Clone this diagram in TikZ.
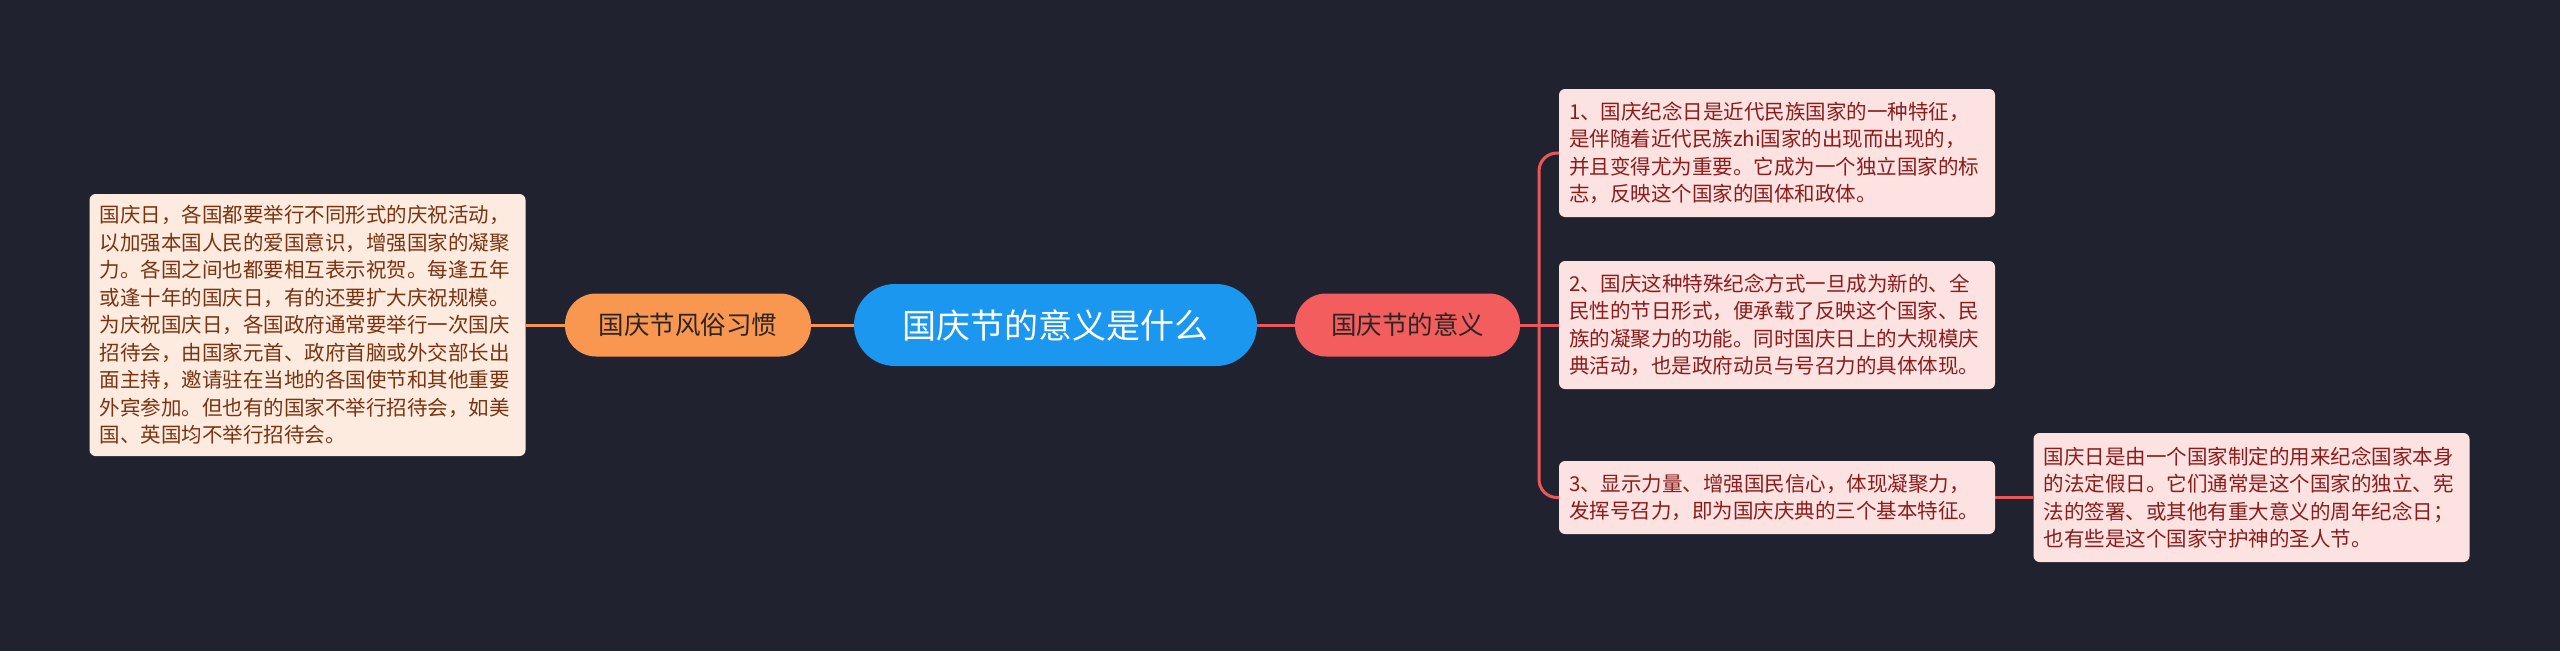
\documentclass[tikz,border=0pt]{standalone}
\usepackage{fontspec}
\usetikzlibrary{backgrounds}
\newfontfamily\cjk{Noto Sans CJK SC}
\definecolor{bg}{HTML}{20232F}
\definecolor{cblue}{HTML}{1B97F0}
\definecolor{corange}{HTML}{F9964F}
\definecolor{cred}{HTML}{F45D5D}
\definecolor{lorange}{HTML}{F7954A}
\definecolor{lred}{HTML}{E9575A}
\definecolor{fillL}{HTML}{FDEBE0}
\definecolor{fillR}{HTML}{FDE2E2}
\definecolor{txtL}{HTML}{7A3310}
\definecolor{txtR}{HTML}{8B1C1C}
\definecolor{dtxt}{HTML}{2A2626}
\tikzset{
  pill/.style={inner sep=0pt, align=center, text=dtxt},
  mainpill/.style={pill, fill=cblue, rounded corners=41pt, minimum width=403pt, minimum height=82pt, text=white, font=\cjk\fontsize{34}{40}\selectfont},
  subpill/.style={pill, rounded corners=31pt, minimum height=63pt, font=\cjk\fontsize{25.5}{30}\selectfont},
  leafbox/.style={inner xsep=10pt, inner ysep=0pt, rounded corners=6pt, align=left, text width=416pt, font=\cjk\fontsize{20.5}{27.5}\selectfont},
  leafL/.style={leafbox, fill=fillL, text=txtL},
  leafR/.style={leafbox, fill=fillR, text=txtR},
  olink/.style={draw=lorange, line width=3pt},
  rlink/.style={draw=lred, line width=3pt},
}
\begin{document}
\begin{tikzpicture}[x=1pt,y=-1pt]
\useasboundingbox (0,0) rectangle (2560,651);

\node[mainpill] (root) at (1055.5,325) {国庆节的意义是什么};
\node[subpill, fill=corange, minimum width=246pt] (custom) at (688,325) {国庆节风俗习惯};
\node[subpill, fill=cred, minimum width=225pt] (meaning) at (1407.5,325) {国庆节的意义};

\node[leafL, minimum height=262pt] (lbox) at (307.5,325) {国庆日，各国都要举行不同形式的庆祝活动，\\以加强本国人民的爱国意识，增强国家的凝聚\\力。各国之间也都要相互表示祝贺。每逢五年\\或逢十年的国庆日，有的还要扩大庆祝规模。\\为庆祝国庆日，各国政府通常要举行一次国庆\\招待会，由国家元首、政府首脑或外交部长出\\面主持，邀请驻在当地的各国使节和其他重要\\外宾参加。但也有的国家不举行招待会，如美\\国、英国均不举行招待会。};

\node[leafR, minimum height=128pt] (r1) at (1777,153) {1、国庆纪念日是近代民族国家的一种特征，\\是伴随着近代民族zhi国家的出现而出现的，\\并且变得尤为重要。它成为一个独立国家的标\\志，反映这个国家的国体和政体。};
\node[leafR, minimum height=128pt] (r2) at (1777,325) {2、国庆这种特殊纪念方式一旦成为新的、全\\民性的节日形式，便承载了反映这个国家、民\\族的凝聚力的功能。同时国庆日上的大规模庆\\典活动，也是政府动员与号召力的具体体现。};
\node[leafR, minimum height=73pt] (r3) at (1777,497.5) {3、显示力量、增强国民信心，体现凝聚力，\\发挥号召力，即为国庆庆典的三个基本特征。};
\node[leafR, minimum height=129pt] (r4) at (2251.5,497.5) {国庆日是由一个国家制定的用来纪念国家本身\\的法定假日。它们通常是这个国家的独立、宪\\法的签署、或其他有重大意义的周年纪念日；\\也有些是这个国家守护神的圣人节。};

\coordinate (trunk) at (1539,325);

\begin{pgfonlayer}{background}
\fill[bg] (0,0) rectangle (2560,651);
\draw[olink] (root.west) -- (custom.east);
\draw[olink] (custom.west) -- (lbox.east);
\draw[rlink] (root.east) -- (meaning.west);
\draw[rlink] (meaning.east) -- (r2.west);
\draw[rlink, rounded corners=18pt] (trunk) |- (r1.west);
\draw[rlink, rounded corners=18pt] (trunk) |- (r3.west);
\draw[rlink] (r3.east) -- (r4.west);
\end{pgfonlayer}
\end{tikzpicture}
\end{document}
